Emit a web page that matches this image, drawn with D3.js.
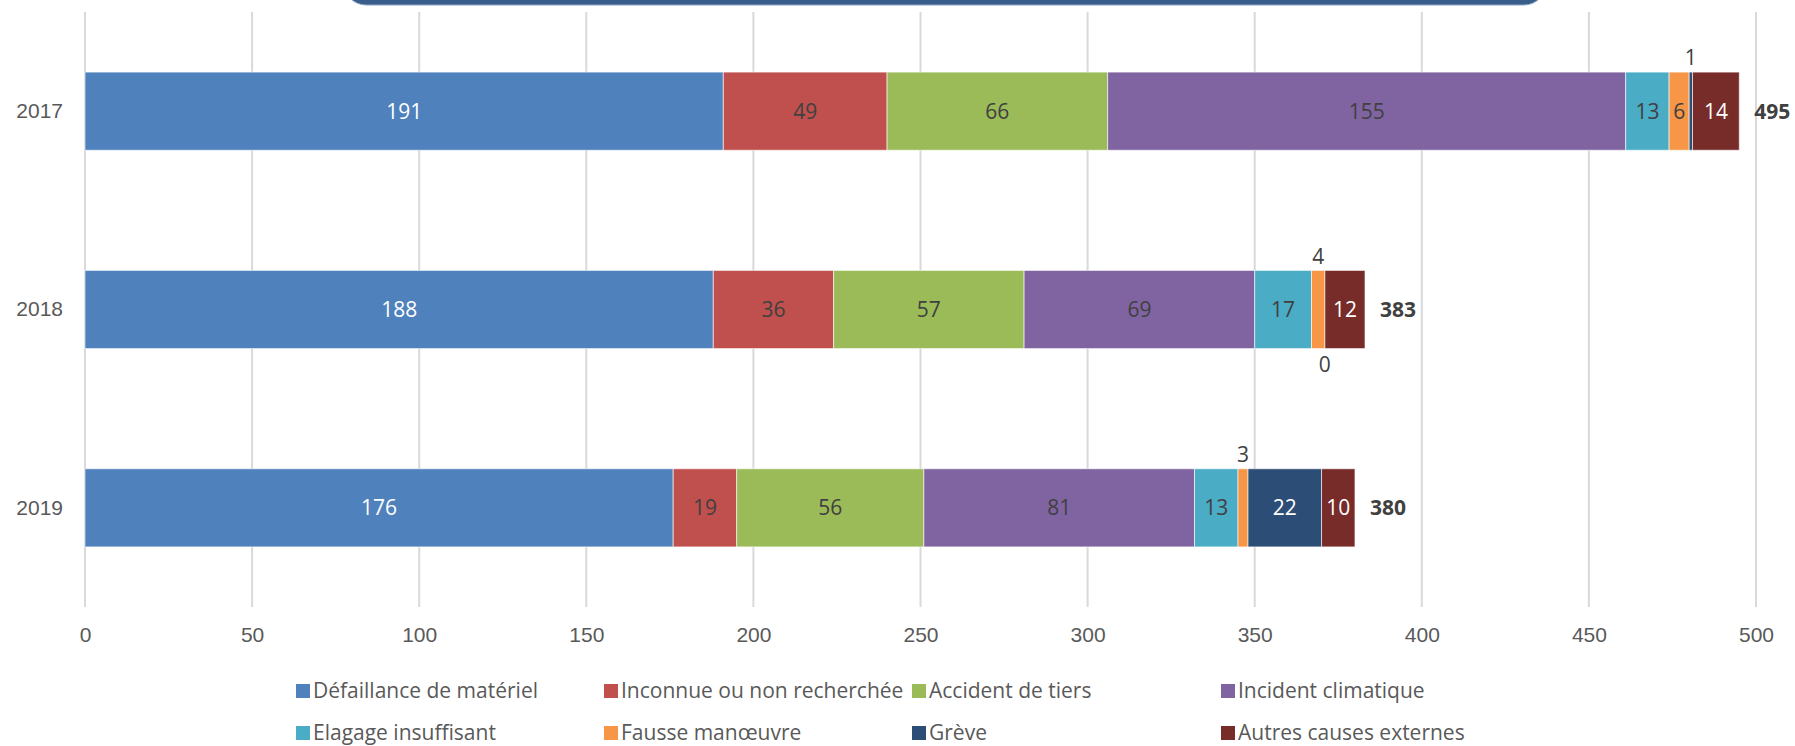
<!DOCTYPE html>
<meta charset="utf-8">
<style>
 body {
     margin: 0;
     background: #fff;
     font-family: "Open Sans", sans-serif;
 }
 .grid line {
     stroke: #d9d9d9;
     stroke-width: 2;
 }
 .axis text {
     fill: #595959;
     font-size: 21px;
 }
</style>
<body>
<script src="https://cdn.jsdelivr.net/npm/d3@7"></script>
<script>

 var years = ["2017", "2018", "2019"];
 var causes = ["Défaillance de matériel", "Inconnue ou non recherchée", "Accident de tiers",
               "Incident climatique", "Elagage insuffisant", "Fausse manœuvre", "Grève",
               "Autres causes externes"];
 var colors = ["#4f81bd", "#c0504d", "#9bbb59", "#8064a2", "#4bacc6", "#f79646", "#2c4d75", "#772c2a"];
 // label colour inside each segment
 var labelColors = ["#fff", "#404040", "#404040", "#404040", "#404040", "#404040", "#fff", "#fff"];

 var values2017 = [191, 49, 66, 155, 13, 6, 1, 14];
 var values2018 = [188, 36, 57, 69, 17, 4, 0, 12];
 var values2019 = [176, 19, 56, 81, 13, 3, 22, 10];
 var totals = [495, 383, 380];
 var xTicks = [0, 50, 100, 150, 200, 250, 300, 350, 400, 450, 500];

 // small segments whose label sits outside the bar: [year, cause index, "above"/"below"]
 var outsideLabels = [["2017", 6, "above"], ["2018", 5, "above"], ["2018", 6, "below"], ["2019", 5, "above"]];

 var width = 1795, height = 746;

 var rows = years.map(function(y, i) {
     var v = [values2017, values2018, values2019][i];
     var r = {year: y};
     causes.forEach(function(c, j) { r[c] = v[j]; });
     return r;
 });

 var svg = d3.select("body").append("svg")
             .attr("width", width)
             .attr("height", height);

 var xScale = d3.scaleLinear().domain([0, 500]).range([85, 1756]);
 var yScale = d3.scaleBand().domain(years).range([12, 607]).paddingInner(0.606).paddingOuter(0.303);

 // bottom of the title box cut off at the top
 svg.append("rect")
    .attr("x", 344).attr("y", -60)
    .attr("width", 1202).attr("height", 65)
    .attr("rx", 22)
    .attr("fill", "#3a5e8b")
    .attr("stroke", "#8fa6c4")
    .attr("stroke-width", 1);

 // gridlines
 svg.append("g")
    .attr("class", "grid")
    .selectAll("line")
    .data(xTicks)
    .enter().append("line")
    .attr("x1", d => xScale(d)).attr("x2", d => xScale(d))
    .attr("y1", 12).attr("y2", 607);

 // x axis labels
 var gX = svg.append("g")
             .attr("class", "axis")
             .attr("transform", "translate(0,607)")
             .call(d3.axisBottom(xScale).tickValues(xTicks).tickSize(0).tickPadding(20));
 gX.select(".domain").remove();

 var gY = svg.append("g")
             .attr("class", "axis")
             .attr("transform", "translate(63,0)")
             .call(d3.axisLeft(yScale).tickSize(0).tickPadding(0));
 gY.select(".domain").remove();

 var stack = d3.stack().keys(causes);
 var series = stack(rows);

 var layers = svg.append("g")
                 .selectAll("g")
                 .data(series)
                 .enter().append("g")
                 .attr("fill", (d, i) => colors[i]);

 layers.selectAll("rect")
       .data(d => d)
       .enter().append("rect")
       .attr("x", d => xScale(d[0]))
       .attr("y", d => yScale(d.data.year))
       .attr("width", d => xScale(d[1]) - xScale(d[0]))
       .attr("height", yScale.bandwidth())
       .attr("stroke", d => (d[1] - d[0]) > 0 ? "#fff" : "none")
       .attr("stroke-opacity", 0.6)
       .attr("stroke-width", 1);

 function isOutside(year, ci) {
     return outsideLabels.find(o => o[0] === year && o[1] === ci);
 }

 // data labels
 series.forEach(function(s, ci) {
     s.forEach(function(d) {
         var year = d.data.year;
         var v = d[1] - d[0];
         var cx = (xScale(d[0]) + xScale(d[1])) / 2;
         var o = isOutside(year, ci);
         var cy = yScale(year) + yScale.bandwidth() / 2;
         var fill = labelColors[ci];
         if (o) {
             cy = o[2] === "above" ? yScale(year) - 14 : yScale(year) + yScale.bandwidth() + 16;
             fill = "#404040";
         }
         svg.append("text")
            .attr("x", cx)
            .attr("y", cy)
            .attr("dy", "0.35em")
            .attr("text-anchor", "middle")
            .attr("fill", fill)
            .style("font-size", "21px")
            .text(v);
     });
 });

 // totals
 svg.append("g")
    .selectAll("text")
    .data(years)
    .enter().append("text")
    .attr("x", (d, i) => xScale(totals[i]) + 15)
    .attr("y", d => yScale(d) + yScale.bandwidth() / 2)
    .attr("dy", "0.35em")
    .attr("fill", "#404040")
    .style("font-size", "21px")
    .style("font-weight", "bold")
    .text((d, i) => totals[i]);

 // legend
 var legendX = [296, 604, 912, 1221];
 var legendY = [691, 733];
 var legend = svg.append("g")
                 .selectAll("g")
                 .data(causes)
                 .enter().append("g")
                 .attr("transform", (d, i) => "translate(" + legendX[i % 4] + "," + legendY[Math.floor(i / 4)] + ")");
 legend.append("rect")
       .attr("x", 0).attr("y", -7)
       .attr("width", 14).attr("height", 14)
       .attr("fill", (d, i) => colors[i]);
 legend.append("text")
       .attr("x", 17)
       .attr("dy", "0.35em")
       .attr("fill", "#595959")
       .style("font-size", "21px")
       .text(d => d);

</script>
</body>
